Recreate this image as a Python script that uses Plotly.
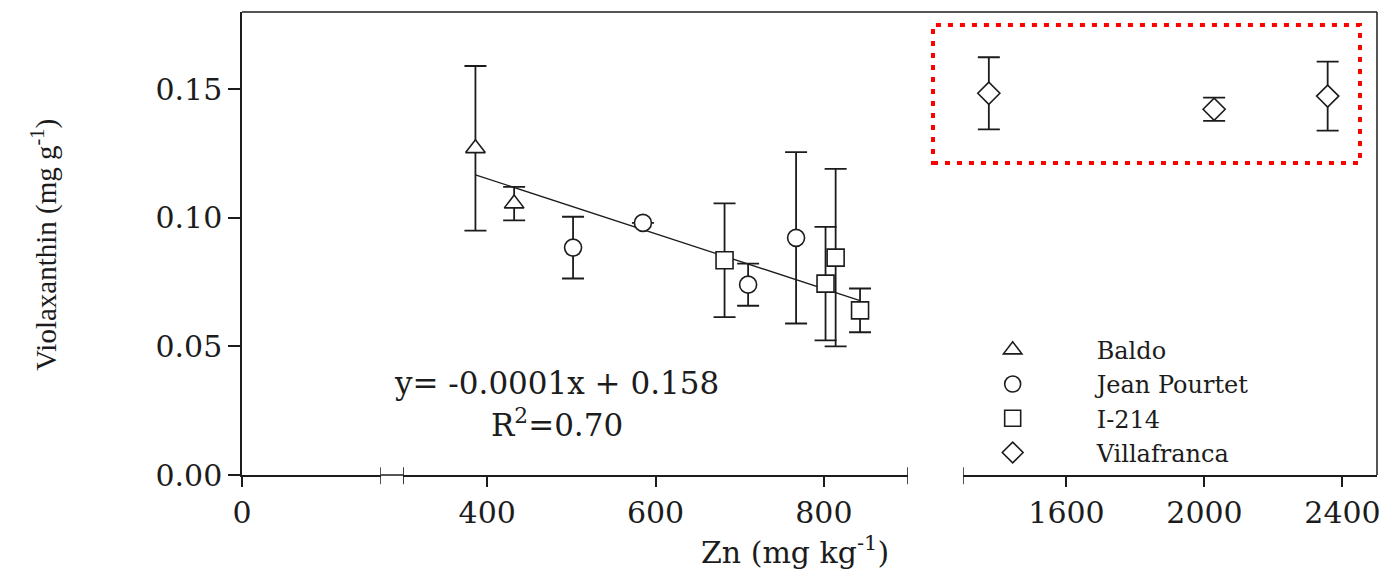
import plotly.graph_objects as go

# Zn in tissue (mg kg-1) and violaxanthin (mg g-1) by cultivar, mean and SD
baldo_zn = [386, 432]
baldo_vx = [0.127, 0.1055]
baldo_sd = [0.032, 0.0065]

jean_zn = [502, 585, 710, 767]
jean_vx = [0.0884, 0.098, 0.074, 0.0922]
jean_sd = [0.012, 0.0, 0.0082, 0.0333]

i214_zn = [682, 802, 814, 843]
i214_vx = [0.0835, 0.0744, 0.0845, 0.064]
i214_sd = [0.0221, 0.0221, 0.0345, 0.0085]

villa_zn = [1375, 2028, 2357]
villa_vx = [0.1484, 0.1422, 0.1473]
villa_sd = [0.014, 0.0045, 0.0134]

# regression over the three cultivars on the middle axis segment
fit_slope = -0.000107
fit_intercept = 0.158
fit_r2 = 0.70

y_ticks = [0.0, 0.05, 0.10, 0.15]
seg1_ticks = [0]
seg2_ticks = [400, 600, 800]
seg3_ticks = [1600, 2000, 2400]

seg1_range = [0, 165]
seg2_range = [300, 900]
seg3_range = [1300, 2500]
y_range = [0, 0.18]

INK = "#1c1c1c"
SERIF = "DejaVu Serif"

fig = go.Figure()


def err(sd):
    return dict(type="data", array=sd, visible=True, color=INK,
                thickness=1.8, width=11)


def add_series(name, xs, ys, sd, symbol, xaxis):
    fig.add_trace(go.Scatter(
        x=xs, y=ys, name=name, mode="markers", xaxis=xaxis, yaxis="y",
        error_y=err(sd),
        marker=dict(symbol=symbol, size=17, color="white",
                    line=dict(color=INK, width=1.6)),
    ))


# regression line
all_zn = baldo_zn + jean_zn + i214_zn
line_x = [min(all_zn), max(all_zn)]
line_y = [fit_slope * v + fit_intercept for v in line_x]
fig.add_trace(go.Scatter(x=line_x, y=line_y, mode="lines", xaxis="x2",
                         yaxis="y", showlegend=False,
                         line=dict(color=INK, width=1.3)))

add_series("Baldo", baldo_zn, baldo_vx, baldo_sd, "triangle-up", "x2")
add_series("Jean Pourtet", jean_zn, jean_vx, jean_sd, "circle", "x2")
add_series("I-214", i214_zn, i214_vx, i214_sd, "square", "x2")
add_series("Villafranca", villa_zn, villa_vx, villa_sd, "diamond", "x3")

tick_font = dict(family=SERIF, size=30, color=INK)
xcommon = dict(showline=True, linecolor=INK, linewidth=1.5, ticks="outside",
               ticklen=10, tickwidth=1.5, tickcolor=INK, showgrid=False,
               zeroline=False, anchor="y", tickfont=tick_font)

fig.update_layout(
    width=1397, height=571,
    margin=dict(l=242, r=20, t=12, b=96),
    paper_bgcolor="white", plot_bgcolor="white",
    xaxis=dict(domain=[0, 0.1225], range=seg1_range, tickvals=seg1_ticks,
               **xcommon),
    xaxis2=dict(domain=[0.1419, 0.5868], range=seg2_range,
                tickvals=seg2_ticks, **xcommon),
    xaxis3=dict(domain=[0.6352, 1.0], range=seg3_range, tickvals=seg3_ticks,
                **xcommon),
    yaxis=dict(range=y_range, tickvals=y_ticks, tickformat=".2f",
               showline=True, linecolor=INK, linewidth=1.5, ticks="outside",
               ticklen=12, tickwidth=1.5, tickcolor=INK, showgrid=False,
               zeroline=False, anchor="x", tickfont=tick_font),
    legend=dict(x=0.605, y=0.318, xanchor="left", yanchor="top",
                bgcolor="rgba(0,0,0,0)", borderwidth=0, tracegroupgap=0,
                itemwidth=158,
                font=dict(family=SERIF, size=24, color=INK)),
    showlegend=True,
)

shapes = []
# closing frame along top and right
shapes.append(dict(type="line", xref="paper", yref="paper", x0=0, x1=1,
                   y0=1, y1=1, line=dict(color=INK, width=1.5)))
shapes.append(dict(type="line", xref="paper", yref="paper", x0=1, x1=1,
                   y0=0, y1=1, line=dict(color=INK, width=1.5)))
# axis line bridging the first break
shapes.append(dict(type="line", xref="paper", yref="paper", x0=0.1225,
                   x1=0.1419, y0=0, y1=0, line=dict(color=INK, width=1.5)))
# break marks at the segment ends
for xref, xv in [("x", seg1_range[1]), ("x2", seg2_range[0]),
                 ("x2", seg2_range[1]), ("x3", seg3_range[0])]:
    shapes.append(dict(type="line", xref=xref, yref="paper", x0=xv, x1=xv,
                       y0=-0.02, y1=0.017, line=dict(color=INK, width=1.6)))
# highlighted Villafranca region
shapes.append(dict(type="rect", xref="paper", yref="paper", x0=0.6088,
                   x1=0.985, y0=0.674, y1=0.972,
                   line=dict(color="#ff0000", width=4, dash="5px,7px")))
fig.update_layout(shapes=shapes)

note = dict(xref="paper", yref="paper", showarrow=False,
            xanchor="center", yanchor="middle")
eq_text = f"y= {fit_slope:.4f}x + {fit_intercept:.3f}"
fig.add_annotation(x=0.2775, y=0.199, text=eq_text,
                   font=dict(family=SERIF, size=31, color=INK), **note)
fig.add_annotation(x=0.2775, y=0.112, text=f"R<sup>2</sup>={fit_r2:.2f}",
                   font=dict(family=SERIF, size=31, color=INK), **note)
fig.add_annotation(x=0.487, y=-0.162, text="Zn (mg kg<sup>-1</sup>)",
                   font=dict(family=SERIF, size=30, color=INK), **note)
fig.add_annotation(x=-0.1736, y=0.497,
                   text="Violaxanthin (mg g<sup>-1</sup>)", textangle=-90,
                   font=dict(family="Liberation Serif", size=29, color=INK),
                   **note)

fig.write_html("out.html")
